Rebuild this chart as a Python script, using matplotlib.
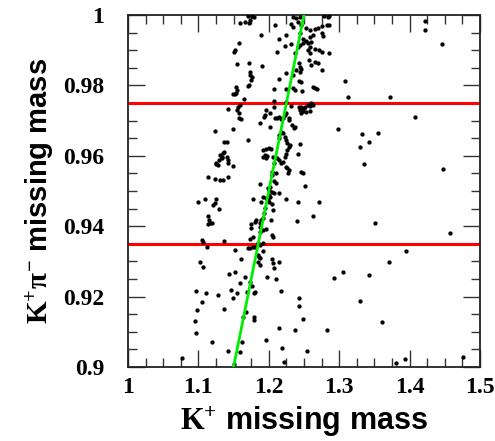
import matplotlib
matplotlib.use("Agg")
import matplotlib.pyplot as plt
from matplotlib.ticker import MultipleLocator

# K+ missing mass (x) and K+pi- missing mass (y) of each event
kp_mass = [
    1.170, 1.176, 1.179, 1.234, 1.239, 1.244, 1.279, 1.284, 1.286,
    1.159, 1.166, 1.172, 1.174, 1.209, 1.232, 1.234, 1.241, 1.246, 1.253,
    1.258, 1.265, 1.270, 1.275, 1.282, 1.286, 1.422, 1.422,
    1.189, 1.214, 1.225, 1.244, 1.258, 1.263, 1.275, 1.277, 1.249, 1.253,
    1.256, 1.260, 1.258,
    1.158, 1.223, 1.231, 1.237, 1.241, 1.245, 1.248, 1.256, 1.258, 1.265,
    1.272, 1.275, 1.286, 1.212, 1.446, 1.151, 1.152,
    1.155, 1.172, 1.191, 1.243, 1.245, 1.239, 1.244, 1.246, 1.257, 1.260,
    1.265, 1.270, 1.275, 1.224, 1.173, 1.174, 1.176, 1.175, 1.234,
    1.215, 1.243, 1.246, 1.308, 1.312, 1.172, 1.170, 1.154, 1.155, 1.153,
    1.149, 1.152, 1.225, 1.234, 1.237, 1.247, 1.263, 1.265, 1.268, 1.208,
    1.372,
    1.165, 1.159, 1.156, 1.155, 1.208, 1.208, 1.224, 1.232, 1.243, 1.245,
    1.246, 1.250, 1.252, 1.256, 1.258, 1.263, 1.260, 1.142,
    1.157, 1.158, 1.160, 1.196, 1.195, 1.193, 1.201, 1.209, 1.212, 1.214,
    1.218, 1.220, 1.223, 1.228, 1.229, 1.225, 1.233, 1.237, 1.236, 1.244,
    1.246, 1.249, 1.253, 1.258, 1.187, 1.201, 1.149, 1.407, 1.298,
    1.123, 1.137, 1.141, 1.171, 1.214, 1.215, 1.218, 1.220, 1.223, 1.225,
    1.226, 1.228, 1.230, 1.192, 1.196, 1.200, 1.203, 1.245, 1.333, 1.329,
    1.343, 1.355,
    1.136, 1.135, 1.130, 1.133, 1.134, 1.129, 1.125, 1.125, 1.128, 1.140,
    1.142, 1.142, 1.192, 1.194, 1.196, 1.198, 1.206, 1.212, 1.214, 1.218,
    1.220, 1.223, 1.224, 1.226, 1.241, 1.335, 1.447, 1.207,
    1.225, 1.226, 1.227, 1.228, 1.246, 1.248, 1.252, 1.149, 1.204, 1.142,
    1.114, 1.123, 1.130, 1.135, 1.210, 1.210, 1.208, 1.205,
    1.187, 1.199, 1.200, 1.201, 1.204, 1.207, 1.214, 1.200, 1.202, 1.192,
    1.196, 1.199, 1.200, 1.189, 1.099, 1.110, 1.125, 1.123, 1.121, 1.129,
    1.177, 1.224, 1.241, 1.271, 1.205, 1.206, 1.195,
    1.114, 1.115, 1.116, 1.113, 1.119, 1.193, 1.192, 1.189, 1.182, 1.181,
    1.187, 1.188, 1.192, 1.196, 1.203, 1.204, 1.206, 1.175, 1.175, 1.240,
    1.263, 1.351, 1.457, 1.187,
    1.105, 1.107, 1.112, 1.136, 1.173, 1.178, 1.171, 1.174, 1.178, 1.180,
    1.192, 1.192, 1.187, 1.185, 1.152, 1.395,
    1.102, 1.107, 1.161, 1.185, 1.186, 1.187, 1.185, 1.188, 1.204, 1.206,
    1.207, 1.214, 1.166, 1.159, 1.144, 1.152, 1.198, 1.210, 1.292, 1.305,
    1.342, 1.371,
    1.174, 1.176, 1.169, 1.179, 1.181, 1.155, 1.147, 1.128, 1.111, 1.096,
    1.149, 1.218, 1.243, 1.330,
    1.105, 1.098, 1.136, 1.167, 1.163, 1.179, 1.179, 1.243, 1.249, 1.361,
    1.095,
    1.097, 1.120, 1.162, 1.196, 1.214, 1.237, 1.282,
    1.142, 1.159, 1.219, 1.254, 1.076, 1.151, 1.221, 1.380, 1.393, 1.476,
]
kppi_mass = [
    0.9997, 0.9997, 0.9995, 0.9995, 0.9991, 0.9995, 0.9997, 0.9995, 0.9997,
    0.9976, 0.9981, 0.9976, 0.9986, 0.9973, 0.9974, 0.9967, 0.9981, 0.9972, 0.9962,
    0.9957, 0.9959, 0.9962, 0.9969, 0.9972, 0.9972, 0.9982, 0.9957,
    0.9944, 0.9931, 0.9943, 0.9948, 0.9938, 0.9943, 0.9948, 0.9940, 0.9931, 0.9927,
    0.9920, 0.9924, 0.9910,
    0.9920, 0.9911, 0.9917, 0.9891, 0.9910, 0.9915, 0.9921, 0.9901, 0.9891, 0.9902,
    0.9901, 0.9896, 0.9893, 0.9896, 0.9917, 0.9896, 0.9901,
    0.9861, 0.9863, 0.9855, 0.9863, 0.9853, 0.9844, 0.9839, 0.9848, 0.9872, 0.9858,
    0.9867, 0.9863, 0.9844, 0.9834, 0.9839, 0.9830, 0.9825, 0.9815, 0.9830,
    0.9817, 0.9813, 0.9811, 0.9812, 0.9768, 0.9801, 0.9798, 0.9795, 0.9787, 0.9779,
    0.9776, 0.9775, 0.9789, 0.9792, 0.9787, 0.9785, 0.9796, 0.9792, 0.9789, 0.9789,
    0.9768,
    0.9761, 0.9744, 0.9740, 0.9730, 0.9757, 0.9740, 0.9754, 0.9741, 0.9738, 0.9735,
    0.9740, 0.9735, 0.9738, 0.9743, 0.9741, 0.9744, 0.9751, 0.9733,
    0.9721, 0.9706, 0.9705, 0.9730, 0.9716, 0.9711, 0.9723, 0.9706, 0.9706, 0.9711,
    0.9704, 0.9706, 0.9716, 0.9706, 0.9702, 0.9721, 0.9688, 0.9683, 0.9678, 0.9730,
    0.9723, 0.9727, 0.9725, 0.9728, 0.9692, 0.9683, 0.9677, 0.9710, 0.9675,
    0.9670, 0.9640, 0.9638, 0.9645, 0.9659, 0.9650, 0.9669, 0.9666, 0.9654, 0.9645,
    0.9635, 0.9626, 0.9631, 0.9616, 0.9618, 0.9623, 0.9618, 0.9634, 0.9662, 0.9626,
    0.9639, 0.9666,
    0.9612, 0.9607, 0.9602, 0.9598, 0.9593, 0.9588, 0.9579, 0.9577, 0.9574, 0.9598,
    0.9588, 0.9579, 0.9598, 0.9602, 0.9593, 0.9599, 0.9598, 0.9593, 0.9588, 0.9579,
    0.9583, 0.9598, 0.9605, 0.9616, 0.9605, 0.9577, 0.9562, 0.9580,
    0.9569, 0.9564, 0.9550, 0.9560, 0.9555, 0.9550, 0.9514, 0.9571, 0.9555, 0.9541,
    0.9541, 0.9533, 0.9531, 0.9531, 0.9550, 0.9522, 0.9527, 0.9545,
    0.9519, 0.9508, 0.9503, 0.9512, 0.9498, 0.9493, 0.9493, 0.9489, 0.9484, 0.9484,
    0.9479, 0.9474, 0.9470, 0.9470, 0.9470, 0.9478, 0.9477, 0.9465, 0.9461, 0.9449,
    0.9476, 0.9476, 0.9470, 0.9469, 0.9463, 0.9446, 0.9452,
    0.9429, 0.9418, 0.9408, 0.9405, 0.9408, 0.9437, 0.9422, 0.9418, 0.9418, 0.9413,
    0.9410, 0.9399, 0.9389, 0.9391, 0.9418, 0.9375, 0.9370, 0.9406, 0.9394, 0.9415,
    0.9430, 0.9410, 0.9381, 0.9384,
    0.9361, 0.9356, 0.9342, 0.9359, 0.9365, 0.9368, 0.9337, 0.9338, 0.9342, 0.9342,
    0.9330, 0.9351, 0.9347, 0.9353, 0.9332, 0.9329,
    0.9298, 0.9285, 0.9307, 0.9318, 0.9313, 0.9309, 0.9299, 0.9290, 0.9306, 0.9295,
    0.9280, 0.9299, 0.9257, 0.9238, 0.9264, 0.9271, 0.9257, 0.9249, 0.9254, 0.9269,
    0.9260, 0.9297,
    0.9242, 0.9230, 0.9214, 0.9209, 0.9214, 0.9209, 0.9219, 0.9205, 0.9209, 0.9217,
    0.9195, 0.9216, 0.9197, 0.9188,
    0.9184, 0.9162, 0.9164, 0.9157, 0.9143, 0.9143, 0.9134, 0.9173, 0.9136, 0.9128,
    0.9132,
    0.9096, 0.9072, 0.9072, 0.9077, 0.9110, 0.9105, 0.9105,
    0.9045, 0.9044, 0.9055, 0.9045, 0.9026, 0.9009, 0.9014, 0.9010, 0.9024, 0.9027,
]

cut_levels = [0.935, 0.975]
fit_x = [1.15, 1.25]
fit_y = [0.90, 1.00]

plt.rcParams['mathtext.fontset'] = 'custom'
plt.rcParams['mathtext.rm'] = 'Liberation Serif:bold'
plt.rcParams['mathtext.it'] = 'Liberation Serif:bold'
plt.rcParams['mathtext.bf'] = 'Liberation Serif:bold'

fig = plt.figure(figsize=(4.95, 4.41), dpi=100)
ax = fig.add_axes([128 / 495, 74 / 441, 352 / 495, 352 / 441])

ax.plot(kp_mass, kppi_mass, 'o', color='black', ms=3.1, mew=0, zorder=3)
for lvl in cut_levels:
    ax.axhline(lvl, color='#ff0000', lw=2.2, zorder=2)
ax.plot(fit_x, fit_y, color='#00ee00', lw=2.0, zorder=4)

ax.set_xlim(1.0, 1.5)
ax.set_ylim(0.9, 1.0)
ax.xaxis.set_major_locator(MultipleLocator(0.1))
ax.xaxis.set_minor_locator(MultipleLocator(0.025))
ax.yaxis.set_major_locator(MultipleLocator(0.02))
ax.yaxis.set_minor_locator(MultipleLocator(0.005))
ax.set_xticks([1.0, 1.1, 1.2, 1.3, 1.4, 1.5], ['1', '1.1', '1.2', '1.3', '1.4', '1.5'])
ax.set_yticks([0.9, 0.92, 0.94, 0.96, 0.98, 1.0], ['0.9', '0.92', '0.94', '0.96', '0.98', '1'])

ax.tick_params(which='both', direction='in', top=True, right=True, color='#333333', width=1)
ax.tick_params(which='major', length=12.5)
ax.tick_params(which='minor', length=6.5)
ax.tick_params(axis='x', which='major', pad=7)
ax.tick_params(axis='y', which='major', pad=17)
for lab in ax.get_xticklabels() + ax.get_yticklabels():
    lab.set_fontfamily('Liberation Serif')
    lab.set_fontweight('bold')
    lab.set_fontsize(17)
for sp in ax.spines.values():
    sp.set_linewidth(1.3)
    sp.set_color('#222222')

ax.set_xlabel(r'$\mathrm{K}^{+}$ missing mass', fontfamily='Liberation Sans',
              fontweight='bold', fontsize=22, labelpad=5)
ax.set_ylabel(r'$\mathrm{K}^{+}\pi^{-}$ missing mass', fontfamily='Liberation Sans',
              fontweight='bold', fontsize=21, labelpad=6)

fig.savefig('out.png', dpi=100)
